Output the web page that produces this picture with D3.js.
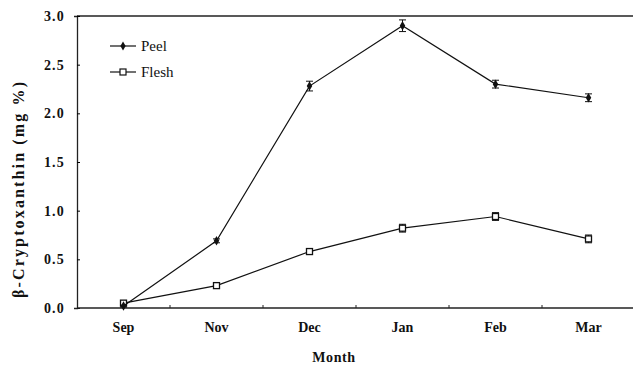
<!DOCTYPE html>
<html>
<head>
<meta charset="utf-8">
<script src="https://cdn.jsdelivr.net/npm/d3@7"></script>
<style>
  body { margin: 0; background: #fff; }
  svg text { font-family: "Liberation Serif", "Times New Roman", serif !important; fill: #111; }
  .axis text { font-weight: bold; font-size: 14px; }
  .y-axis text { letter-spacing: 1.2px; }
</style>
</head>
<body>
<div id="chart"></div>
<script>
// months on the x axis
const months = ["Sep", "Nov", "Dec", "Jan", "Feb", "Mar"];
// beta-cryptoxanthin, mg %
const peel = [0.02, 0.69, 2.28, 2.90, 2.30, 2.16];
const peelErr = [0.01, 0.02, 0.05, 0.06, 0.04, 0.04];
const flesh = [0.05, 0.23, 0.58, 0.82, 0.94, 0.71];
const fleshErr = [0.02, 0.02, 0.02, 0.04, 0.04, 0.04];
const yTicks = [0, 0.5, 1.0, 1.5, 2.0, 2.5, 3.0];

const W = 633, H = 365;
const margin = {top: 16, right: -2, bottom: 57, left: 77};
const width = W - margin.left - margin.right;
const height = H - margin.top - margin.bottom;

const svg = d3.select("#chart").append("svg")
    .attr("width", W)
    .attr("height", H)
    .append("g")
    .attr("transform", "translate(" + margin.left + "," + margin.top + ")");

const x = d3.scaleBand().domain(months).range([0, width]);
const y = d3.scaleLinear().domain([0, 3]).range([height, 0]);

// frame top line
svg.append("line")
    .attr("x1", 0).attr("x2", width + 5)
    .attr("y1", 0).attr("y2", 0)
    .attr("stroke", "#222").attr("stroke-width", 1.3);

// y axis
const yAxis = svg.append("g").attr("class", "axis y-axis")
    .call(d3.axisLeft(y).tickValues(yTicks).tickFormat(d3.format(".1f")).tickSize(3).tickPadding(9));
yAxis.attr("font-family", null);
yAxis.select(".domain").attr("stroke", "#222").attr("stroke-width", 1.3);
yAxis.selectAll(".tick line").attr("x2", 3).attr("x1", 0);

// x axis, ticks between categories
const xAxis = svg.append("g").attr("class", "axis")
    .attr("transform", "translate(0," + height + ")")
    .call(d3.axisBottom(x).tickSize(0).tickPadding(14));
xAxis.attr("font-family", null);
xAxis.select(".domain").attr("stroke", "#222").attr("stroke-width", 1.3).attr("d", "M0,0H" + (width + 5));
svg.append("g")
    .selectAll("line")
    .data(months.slice(1))
    .join("line")
    .attr("x1", d => x(d)).attr("x2", d => x(d))
    .attr("y1", height).attr("y2", height - 3)
    .attr("stroke", "#222");

// axis titles
svg.append("text")
    .attr("transform", "translate(-53," + (height / 2 + 28) + ") rotate(-90)")
    .attr("text-anchor", "middle")
    .attr("font-size", "16px")
    .attr("font-weight", "bold")
    .attr("textLength", 216)
    .attr("lengthAdjust", "spacing")
    .text("β-Cryptoxanthin (mg %)");

svg.append("text")
    .attr("x", width / 2 - 22)
    .attr("y", height + 54)
    .attr("text-anchor", "middle")
    .attr("font-size", "14px")
    .attr("font-weight", "bold")
    .attr("letter-spacing", "0.6px")
    .text("Month");

const cx = (d, i) => x(months[i]) + x.bandwidth() / 2;
const line = d3.line().x(cx).y(d => y(d));

function drawSeries(vals, errs, type) {
    svg.append("path")
        .datum(vals)
        .attr("d", line)
        .attr("fill", "none")
        .attr("stroke", "#111")
        .attr("stroke-width", 1.2);

    const g = svg.append("g");
    vals.forEach((v, i) => {
        const px = cx(v, i);
        const e = errs[i];
        g.append("line")
            .attr("x1", px).attr("x2", px)
            .attr("y1", y(v + e)).attr("y2", y(v - e))
            .attr("stroke", "#111");
        [v + e, v - e].forEach(t => g.append("line")
            .attr("x1", px - 3.5).attr("x2", px + 3.5)
            .attr("y1", y(t)).attr("y2", y(t))
            .attr("stroke", "#111"));
    });

    if (type === "diamond") {
        g.selectAll("path.m")
            .data(vals)
            .join("path")
            .attr("class", "m")
            .attr("transform", (d, i) => "translate(" + cx(d, i) + "," + y(d) + ")")
            .attr("d", d3.symbol(d3.symbolDiamond, 26))
            .attr("fill", "#111");
    } else {
        g.selectAll("rect.m")
            .data(vals)
            .join("rect")
            .attr("class", "m")
            .attr("x", (d, i) => cx(d, i) - 3)
            .attr("y", d => y(d) - 3)
            .attr("width", 6).attr("height", 6)
            .attr("fill", "#fff")
            .attr("stroke", "#111")
            .attr("stroke-width", 1.3);
    }
}

drawSeries(flesh, fleshErr, "square");
drawSeries(peel, peelErr, "diamond");

// legend
const legend = svg.append("g").attr("transform", "translate(33,30)");
legend.append("line").attr("x1", 0).attr("x2", 26).attr("y1", 0).attr("y2", 0).attr("stroke", "#111").attr("stroke-width", 1.2);
legend.append("path").attr("transform", "translate(13,0)").attr("d", d3.symbol(d3.symbolDiamond, 24)).attr("fill", "#111");
legend.append("text").attr("x", 31).attr("y", 5).attr("font-size", "15px").text("Peel");
legend.append("line").attr("x1", 0).attr("x2", 26).attr("y1", 26).attr("y2", 26).attr("stroke", "#111").attr("stroke-width", 1.2);
legend.append("rect").attr("x", 10).attr("y", 23).attr("width", 6).attr("height", 6).attr("fill", "#fff").attr("stroke", "#111").attr("stroke-width", 1.2);
legend.append("text").attr("x", 31).attr("y", 31).attr("font-size", "15px").text("Flesh");
</script>
</body>
</html>
